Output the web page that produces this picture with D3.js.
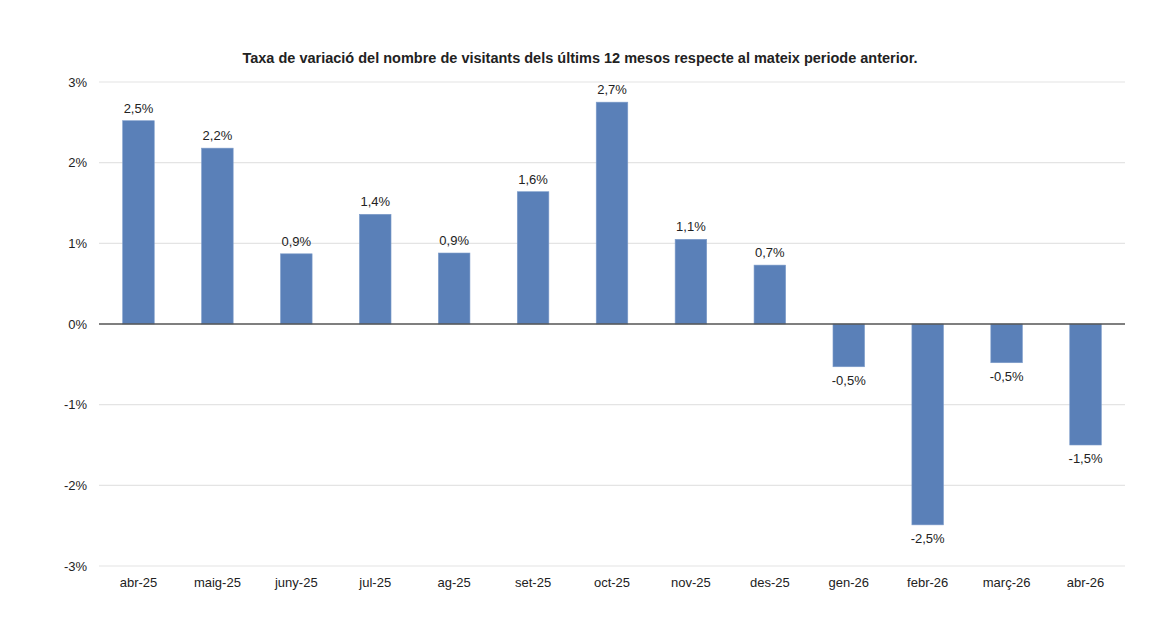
<!DOCTYPE html>
<html>
<head>
<meta charset="utf-8">
<script src="https://cdn.jsdelivr.net/npm/d3@7"></script>
<style>
  body { margin: 0; background: #fff; }
  svg text { font-family: "Liberation Sans", Arial, sans-serif; fill: #222; }
</style>
</head>
<body>
<svg id="chart" width="1168" height="642"></svg>
<script>
// ── Data ─────────────────────────────────────────────────────────────────────

const months = ["abr-25", "maig-25", "juny-25", "jul-25", "ag-25", "set-25", "oct-25",
  "nov-25", "des-25", "gen-26", "febr-26", "març-26", "abr-26"];
const rates = [2.52, 2.18, 0.87, 1.36, 0.88, 1.64, 2.75, 1.05, 0.73, -0.53, -2.49, -0.48, -1.50];
const rateLabels = ["2,5%", "2,2%", "0,9%", "1,4%", "0,9%", "1,6%", "2,7%", "1,1%", "0,7%",
  "-0,5%", "-2,5%", "-0,5%", "-1,5%"];
const yTicks = [-3, -2, -1, 0, 1, 2, 3];
const title = "Taxa de variació del nombre de visitants dels últims 12 mesos respecte al mateix periode anterior.";

// ── Layout ───────────────────────────────────────────────────────────────────

const svg = d3.select("#chart");
const plotLeft = 99, plotRight = 1125, plotTop = 82, plotBottom = 566;

const x = d3.scaleBand().domain(months).range([plotLeft, plotRight]).paddingInner(0.6).paddingOuter(0.3);
const y = d3.scaleLinear().domain([-3, 3]).range([plotBottom, plotTop]);

svg.append("text")
  .attr("x", 580).attr("y", 63)
  .attr("text-anchor", "middle")
  .attr("font-size", 14.5).attr("font-weight", "bold")
  .text(title);

// gridlines
svg.append("g")
  .selectAll("line")
  .data(yTicks.filter((t) => t !== 0))
  .join("line")
  .attr("x1", plotLeft).attr("x2", plotRight)
  .attr("y1", (d) => y(d)).attr("y2", (d) => y(d))
  .attr("stroke", "#e4e4e4").attr("stroke-width", 1.2);

// y labels
svg.append("g")
  .selectAll("text")
  .data(yTicks)
  .join("text")
  .attr("x", 87).attr("y", (d) => y(d) + 4.5)
  .attr("text-anchor", "end")
  .attr("font-size", 13)
  .text((d) => `${d}%`);

// bars
svg.append("g")
  .selectAll("rect")
  .data(rates)
  .join("rect")
  .attr("x", (d, i) => x(months[i]))
  .attr("width", x.bandwidth())
  .attr("y", (d) => y(Math.max(d, 0)))
  .attr("height", (d) => Math.abs(y(d) - y(0)))
  .attr("fill", "#5a80b8")
  .attr("stroke", "#7d9cca").attr("stroke-width", 0.6);

// zero line
svg.append("line")
  .attr("x1", plotLeft).attr("x2", plotRight)
  .attr("y1", y(0)).attr("y2", y(0))
  .attr("stroke", "#555").attr("stroke-width", 1.5);

// value labels
svg.append("g")
  .selectAll("text")
  .data(rates)
  .join("text")
  .attr("x", (d, i) => x(months[i]) + x.bandwidth() / 2)
  .attr("y", (d) => d >= 0 ? y(d) - 8 : y(d) + 18)
  .attr("text-anchor", "middle")
  .attr("font-size", 13)
  .text((d, i) => rateLabels[i]);

// category labels
svg.append("g")
  .selectAll("text")
  .data(months)
  .join("text")
  .attr("x", (d) => x(d) + x.bandwidth() / 2)
  .attr("y", 587)
  .attr("text-anchor", "middle")
  .attr("font-size", 13)
  .text((d) => d);
</script>
</body>
</html>
